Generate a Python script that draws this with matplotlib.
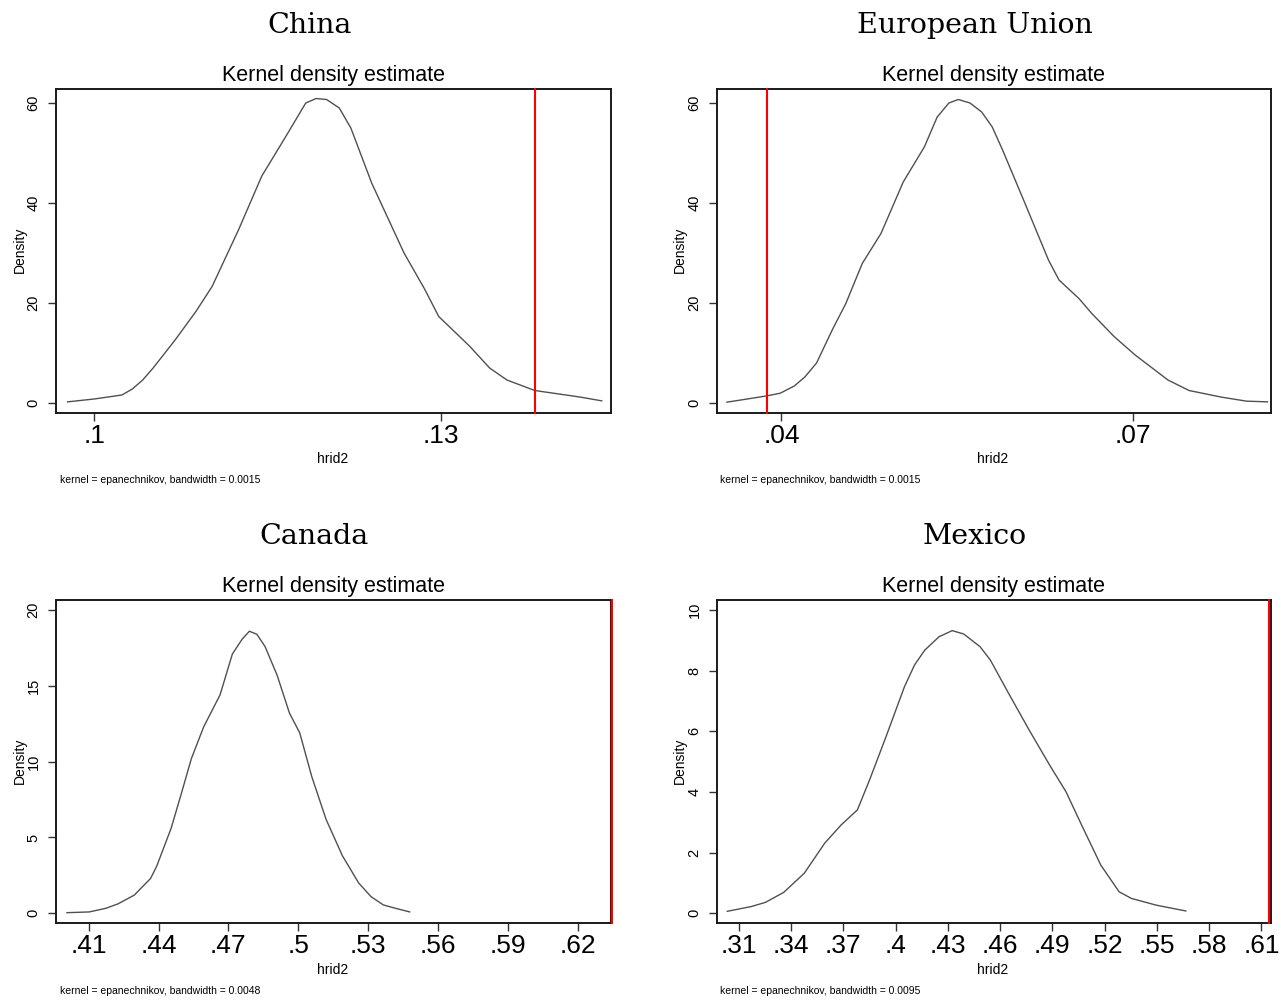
import matplotlib
matplotlib.use("Agg")
import matplotlib.pyplot as plt

W, H = 1281, 1001

# ── Data ─────────────────────────────────────────────────────────────────────

china_x = [0.0977, 0.1000, 0.1024, 0.1033, 0.1042, 0.1051, 0.1070, 0.1088, 0.1102,
           0.1125, 0.1145, 0.1166, 0.1183, 0.1192, 0.1201, 0.1212, 0.1222, 0.1240,
           0.1268, 0.1286, 0.1298, 0.1325, 0.1342, 0.1357, 0.1381, 0.1402, 0.1420,
           0.1439]
china_y = [0.13, 0.7, 1.5, 2.7, 4.5, 6.9, 12.5, 18.2, 23.2, 34.6, 45.3, 53.3, 59.9,
           60.8, 60.6, 58.9, 54.9, 43.9, 29.9, 22.6, 17.2, 11.2, 6.9, 4.5, 2.4, 1.7,
           1.1, 0.33]

eu_x = [0.03535, 0.0370, 0.03877, 0.0399, 0.0411, 0.0420, 0.0430, 0.0444, 0.0455,
        0.0469, 0.0485, 0.0504, 0.0522, 0.0533, 0.0543, 0.0551, 0.0561, 0.0571,
        0.0580, 0.0589, 0.0608, 0.0628, 0.0637, 0.0654, 0.0665, 0.0684, 0.0702,
        0.0730, 0.0748, 0.0776, 0.0797, 0.0815]
eu_y = [0.07, 0.67, 1.33, 1.86, 3.3, 5.1, 7.9, 14.8, 19.8, 27.8, 33.8, 44.1, 51.1,
        57.1, 59.9, 60.6, 59.9, 58.1, 55.1, 50.4, 39.8, 28.5, 24.5, 20.8, 17.8,
        13.2, 9.5, 4.5, 2.4, 1.06, 0.27, 0.13]

canada_x = [0.4007, 0.4103, 0.4174, 0.4226, 0.4296, 0.4366, 0.4392, 0.4454, 0.4498,
            0.4541, 0.4594, 0.4664, 0.4717, 0.4760, 0.4790, 0.4822, 0.4857, 0.4909,
            0.4962, 0.5006, 0.5058, 0.5119, 0.5189, 0.5259, 0.5312, 0.5365, 0.5417,
            0.5478]
canada_y = [0.04, 0.09, 0.33, 0.62, 1.2, 2.3, 3.1, 5.6, 7.9, 10.2, 12.3, 14.4, 17.1,
            18.1, 18.6, 18.4, 17.6, 15.7, 13.2, 11.9, 9.0, 6.2, 3.8, 2.0, 1.1, 0.55,
            0.33, 0.09]

mexico_x = [0.3034, 0.3170, 0.3253, 0.3358, 0.3476, 0.3593, 0.3687, 0.3781, 0.3851,
            0.3945, 0.4051, 0.4109, 0.4168, 0.4250, 0.4325, 0.4391, 0.4485, 0.4544,
            0.4649, 0.4767, 0.4884, 0.4978, 0.5072, 0.5178, 0.5283, 0.5354, 0.5495,
            0.5666]
mexico_y = [0.066, 0.22, 0.36, 0.69, 1.32, 2.31, 2.91, 3.41, 4.40, 5.82, 7.47, 8.19,
            8.68, 9.12, 9.32, 9.21, 8.79, 8.35, 7.25, 6.04, 4.89, 4.01, 2.86, 1.59,
            0.71, 0.49, 0.27, 0.077]

observed = {"China": 0.1381, "European Union": 0.03877, "Canada": 0.6348, "Mexico": 0.6143}
bandwidths = {"China": "0.0015", "European Union": "0.0015", "Canada": "0.0048", "Mexico": "0.0095"}

china_xticks = [0.10, 0.13]
china_xlabels = [".1", ".13"]
eu_xticks = [0.04, 0.07]
eu_xlabels = [".04", ".07"]
canada_xticks = [0.41, 0.44, 0.47, 0.50, 0.53, 0.56, 0.59, 0.62]
canada_xlabels = [".41", ".44", ".47", ".5", ".53", ".56", ".59", ".62"]
mexico_xticks = [0.31, 0.34, 0.37, 0.40, 0.43, 0.46, 0.49, 0.52, 0.55, 0.58, 0.61]
mexico_xlabels = [".31", ".34", ".37", ".4", ".43", ".46", ".49", ".52", ".55", ".58", ".61"]

china_yticks = [0, 20, 40, 60]
eu_yticks = [0, 20, 40, 60]
canada_yticks = [0, 5, 10, 15, 20]
mexico_yticks = [0, 2, 4, 6, 8, 10]

SANS = "Liberation Sans"
SERIF = "DejaVu Serif"


def _fx(px):
    return px / W


def _fy(py):
    return 1 - py / H


def _panel(fig, name, box, xs, ys, xlim, ylim, xticks, xlabels, yticks, ox, oy, title_x):
    left, right, top, bottom = box
    ax = fig.add_axes([_fx(left), _fy(bottom), (right - left) / W, (bottom - top) / H])
    ax.plot(xs, ys, color="#505050", lw=1.0)
    ax.axvline(observed[name], color="#ff0000", lw=1.5, clip_on=False, zorder=5)
    ax.set_xlim(*xlim)
    ax.set_ylim(*ylim)
    ax.set_xticks(xticks)
    ax.set_xticklabels(xlabels, fontsize=19, family=SANS)
    ax.set_yticks(yticks)
    ax.set_yticklabels([str(v) for v in yticks], fontsize=10.5, family=SANS,
                       rotation=90, va="center")
    ax.tick_params(axis="x", length=6, width=1.0, pad=2, color="#333333")
    ax.tick_params(axis="y", length=6, width=1.0, pad=5, color="#333333")
    for sp in ax.spines.values():
        sp.set_linewidth(1.4)
        sp.set_color("#1a1a1a")

    fig.text(_fx(title_x), _fy(oy + 33), name, family=SERIF, fontsize=20.5,
             ha="center", va="baseline")
    fig.text(_fx(ox + 334), _fy(oy + 81), "Kernel density estimate", family=SANS,
             fontsize=15.5, ha="center", va="baseline")
    fig.text(_fx(ox + 333), _fy(oy + 459), "hrid2", family=SANS, fontsize=10,
             ha="center", va="center")
    fig.text(_fx(ox + 20), _fy(oy + 250), "Density", family=SANS, fontsize=10,
             ha="center", va="center", rotation=90)
    fig.text(_fx(ox + 60), _fy(oy + 480),
             f"kernel = epanechnikov, bandwidth = {bandwidths[name]}",
             family=SANS, fontsize=7.5, ha="left", va="center")
    return ax


fig = plt.figure(figsize=(W / 100, H / 100), dpi=100)

_panel(fig, "China", (56, 611, 89, 412.5), china_x, china_y,
       (0.0967, 0.1447), (-2.0, 62.7), china_xticks, china_xlabels, china_yticks,
       0, 0, 310)
_panel(fig, "European Union", (717, 1271, 89, 412.5), eu_x, eu_y,
       (0.0345, 0.0818), (-2.0, 62.7), eu_xticks, eu_xlabels, eu_yticks,
       660, 0, 975)
_panel(fig, "Canada", (56, 611, 600, 923), canada_x, canada_y,
       (0.3960, 0.6342), (-0.64, 20.66), canada_xticks, canada_xlabels, canada_yticks,
       0, 511, 314)
_panel(fig, "Mexico", (717, 1271, 600, 923), mexico_x, mexico_y,
       (0.2975, 0.6155), (-0.32, 10.33), mexico_xticks, mexico_xlabels, mexico_yticks,
       660, 511, 975)

fig.savefig("out.png", dpi=100)
